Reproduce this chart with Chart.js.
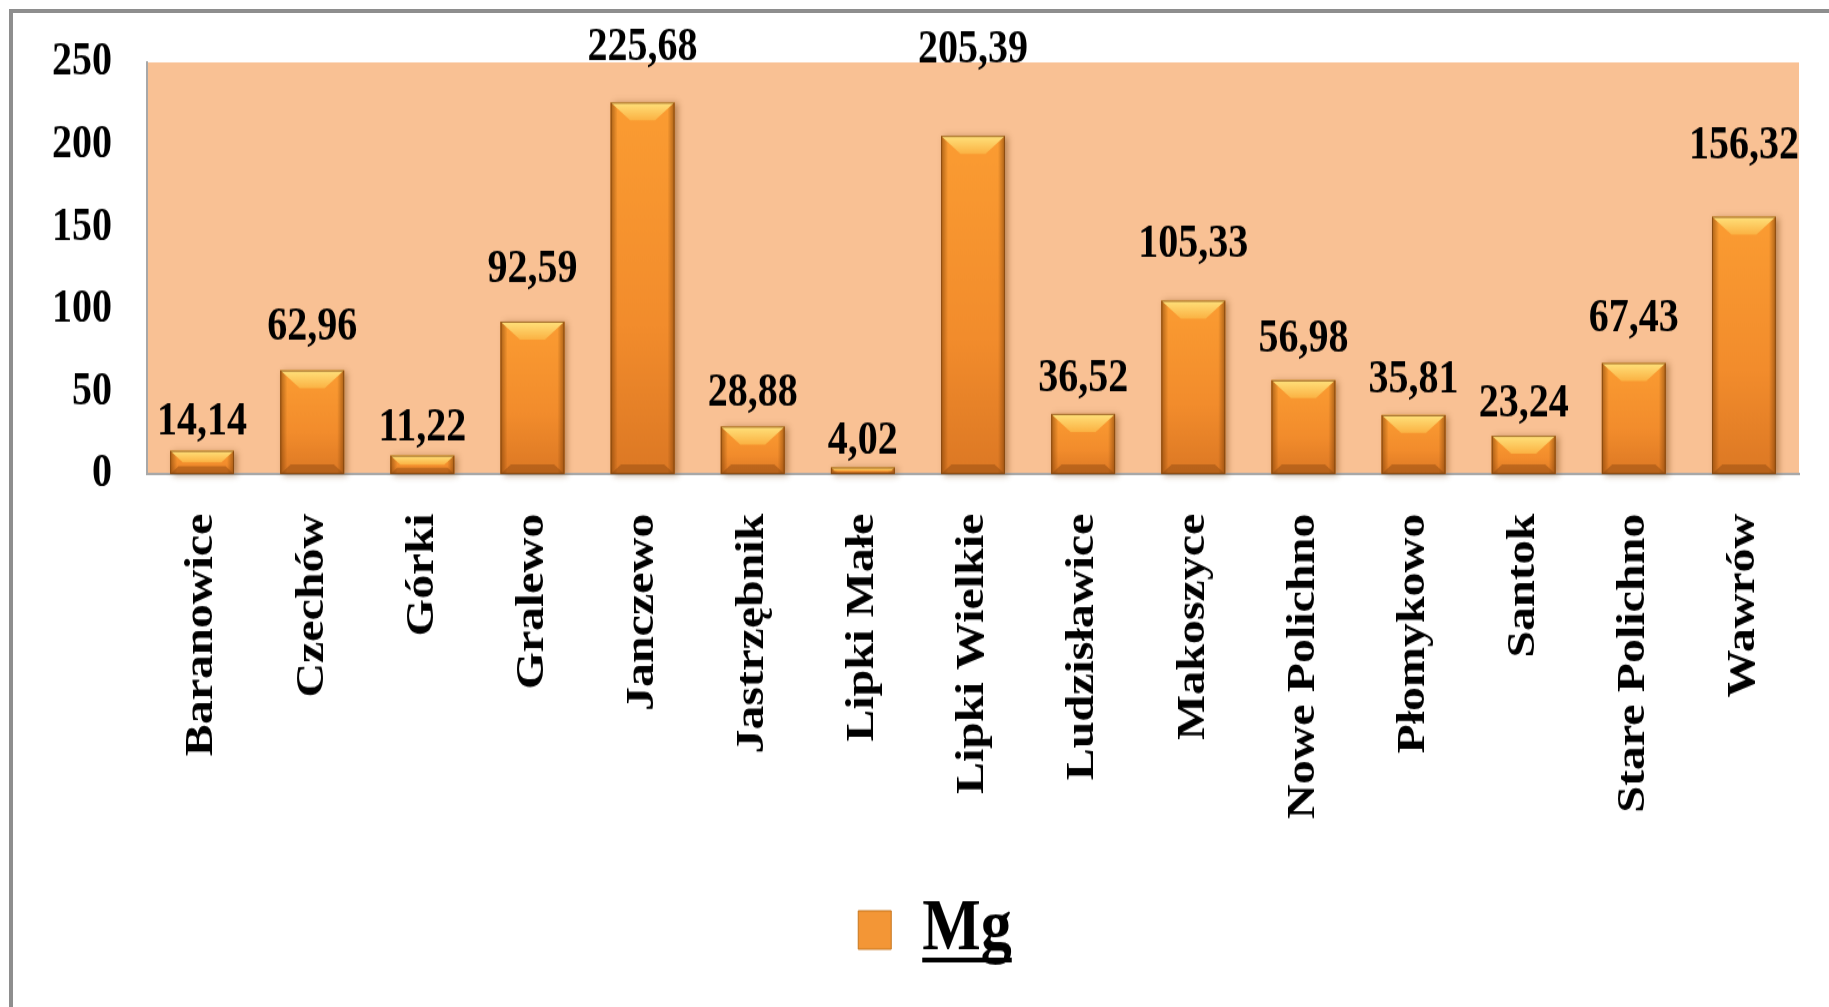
<!DOCTYPE html>
<html>
<head>
<meta charset="utf-8">
<script src="https://cdn.jsdelivr.net/npm/chart.js@4.4.0/dist/chart.umd.min.js"></script>
<style>
    html, body { margin: 0; padding: 0; background: #fff; overflow: hidden; width: 1829px; height: 1007px; }
    #frame { position: absolute; left: 9px; top: 9px; width: 1900px; height: 1100px;
             border-left: 4px solid #8e8e8e; border-top: 4px solid #8e8e8e; }
    /* the source picture is stretched vertically, so the chart is too */
    #wrap { position: absolute; left: 0; top: 0; width: 1829px; height: 839px;
            transform: scaleY(1.2); transform-origin: 0 0; }
</style>
</head>
<body>
<div id="frame"></div>
<div id="wrap"><canvas id="mgChart"></canvas></div>
<script>
const categories = ['Baranowice', 'Czechów', 'Górki', 'Gralewo', 'Janczewo', 'Jastrzębnik', 'Lipki Małe',
    'Lipki Wielkie', 'Ludzisławice', 'Makoszyce', 'Nowe Polichno', 'Płomykowo', 'Santok', 'Stare Polichno', 'Wawrów'];
const mgValues = [14.14, 62.96, 11.22, 92.59, 225.68, 28.88, 4.02, 205.39, 36.52, 105.33, 56.98, 35.81, 23.24, 67.43, 156.32];
const seriesName = 'Mg';
const yMin = 0, yMax = 250, yStep = 50;

const serif = '"Liberation Serif", "Times New Roman", serif';

// peach plot background
const plotBg = {
    id: 'plotBg',
    afterLayout(chart) {
        // let the y tick labels reach past the left padding (they are clipped to the scale box)
        chart.scales.y.left = 0;
    },
    beforeDraw(chart) {
        const { ctx, chartArea: a } = chart;
        ctx.save();
        ctx.fillStyle = '#f9c194';
        ctx.fillRect(a.left, a.top, a.right - a.left, a.bottom - a.top);
        ctx.restore();
    }
};

// bevelled look on the bars + value labels
const bevelBars = {
    id: 'bevelBars',
    afterDatasetsDraw(chart) {
        const ctx = chart.ctx;
        const meta = chart.getDatasetMeta(0);
        meta.data.forEach((bar, i) => {
            const l = bar.x - bar.width / 2, r = bar.x + bar.width / 2;
            const top = bar.y, base = bar.base, h = base - top;

            ctx.save();
            ctx.shadowColor = 'rgba(110,60,10,0.45)';
            ctx.shadowBlur = 6;
            ctx.shadowOffsetX = 3;
            ctx.shadowOffsetY = 1;
            let g = ctx.createLinearGradient(0, top, 0, base);
            g.addColorStop(0, '#fb9c32');
            g.addColorStop(0.6, '#f28c2c');
            g.addColorStop(1, '#dc7824');
            ctx.fillStyle = g;
            ctx.fillRect(l, top, r - l, h);
            ctx.restore();

            // side shading
            ctx.save();
            g = ctx.createLinearGradient(l, 0, l + 7, 0);
            g.addColorStop(0, 'rgba(120,60,5,0.6)');
            g.addColorStop(1, 'rgba(120,60,5,0)');
            ctx.fillStyle = g;
            ctx.fillRect(l, top, 7, h);
            g = ctx.createLinearGradient(r, 0, r - 7, 0);
            g.addColorStop(0, 'rgba(120,60,5,0.6)');
            g.addColorStop(1, 'rgba(120,60,5,0)');
            ctx.fillStyle = g;
            ctx.fillRect(r - 7, top, 7, h);

            // bottom bevel
            const bb = Math.min(8, h / 3);
            ctx.beginPath();
            ctx.moveTo(l, base); ctx.lineTo(r, base);
            ctx.lineTo(r - bb * 1.3, base - bb); ctx.lineTo(l + bb * 1.3, base - bb);
            ctx.closePath();
            ctx.fillStyle = 'rgba(140,70,15,0.45)';
            ctx.fill();

            // top bevel
            const tb = Math.min(15, h / 2);
            ctx.beginPath();
            ctx.moveTo(l, top); ctx.lineTo(r, top);
            ctx.lineTo(r - tb * 1.3, top + tb); ctx.lineTo(l + tb * 1.3, top + tb);
            ctx.closePath();
            g = ctx.createLinearGradient(0, top, 0, top + tb);
            g.addColorStop(0, '#ffe27c');
            g.addColorStop(1, '#fbb243');
            ctx.fillStyle = g;
            ctx.fill();

            ctx.strokeStyle = 'rgba(130,70,15,0.8)';
            ctx.lineWidth = 1;
            ctx.strokeRect(l + 0.5, top + 0.5, r - l - 1, h - 1);
            ctx.restore();

            // value label
            const v = chart.data.datasets[0].data[i];
            const gap = 10 + 0.18 * h;
            const ly = Math.max(top - gap, 50);
            ctx.save();
            ctx.font = 'bold 40px ' + serif;
            ctx.fillStyle = '#000';
            ctx.textAlign = 'center';
            ctx.textBaseline = 'alphabetic';
            ctx.fillText(v.toFixed(2).replace('.', ','), bar.x, ly);
            ctx.restore();
        });
    }
};

// underline under the legend text
const legendUnderline = {
    id: 'legendUnderline',
    afterDraw(chart) {
        const lg = chart.legend;
        if (!lg || !lg.legendHitBoxes.length) return;
        const hb = lg.legendHitBoxes[0];
        const opts = lg.options.labels;
        const ctx = chart.ctx;
        ctx.save();
        ctx.font = 'bold ' + opts.font.size + 'px ' + serif;
        const tw = ctx.measureText(seriesName).width;
        const tx = hb.left + opts.boxWidth + opts.font.size / 2;
        const ty = hb.top + hb.height / 2 + 23;
        ctx.fillStyle = '#000';
        ctx.fillRect(tx, ty, tw, 4);
        ctx.restore();
    }
};

new Chart(document.getElementById('mgChart'), {
    type: 'bar',
    data: {
        labels: categories,
        datasets: [{
            label: seriesName,
            data: mgValues,
            backgroundColor: '#f39030',
            borderWidth: 0,
            barPercentage: 0.58,
            categoryPercentage: 1
        }]
    },
    options: {
        responsive: true,
        maintainAspectRatio: false,
        animation: false,
        layout: { padding: { left: 71, right: 30, top: 52, bottom: 23 } },
        plugins: {
            tooltip: { enabled: false },
            legend: {
                display: true,
                position: 'bottom',
                labels: {
                    boxWidth: 33,
                    boxHeight: 32,
                    color: '#000',
                    font: { family: serif, size: 62, weight: 'bold' },
                    generateLabels: () => [{
                        text: seriesName,
                        fillStyle: '#f39636',
                        strokeStyle: '#c7761f',
                        lineWidth: 1,
                        datasetIndex: 0
                    }]
                }
            }
        },
        scales: {
            x: {
                grid: { display: false, drawTicks: false },
                border: { display: true, color: '#a8a8a8', width: 2 },
                ticks: {
                    color: '#000',
                    font: { family: serif, size: 40, weight: 'bold' },
                    minRotation: 90,
                    maxRotation: 90,
                    padding: 33,
                    autoSkip: false
                },
                afterFit(scale) { scale.height = 339; }
            },
            y: {
                min: yMin,
                max: yMax,
                grid: { display: false, drawTicks: false },
                border: { display: true, color: '#a8a8a8', width: 2 },
                ticks: {
                    stepSize: yStep,
                    color: '#000',
                    font: { family: serif, size: 40, weight: 'bold' },
                    padding: 35
                },
                afterFit(scale) {
                    scale.width = 76;
                    scale.paddingTop = 0;
                    scale.paddingBottom = 0;
                }
            }
        }
    },
    plugins: [plotBg, bevelBars, legendUnderline]
});
</script>
</body>
</html>
